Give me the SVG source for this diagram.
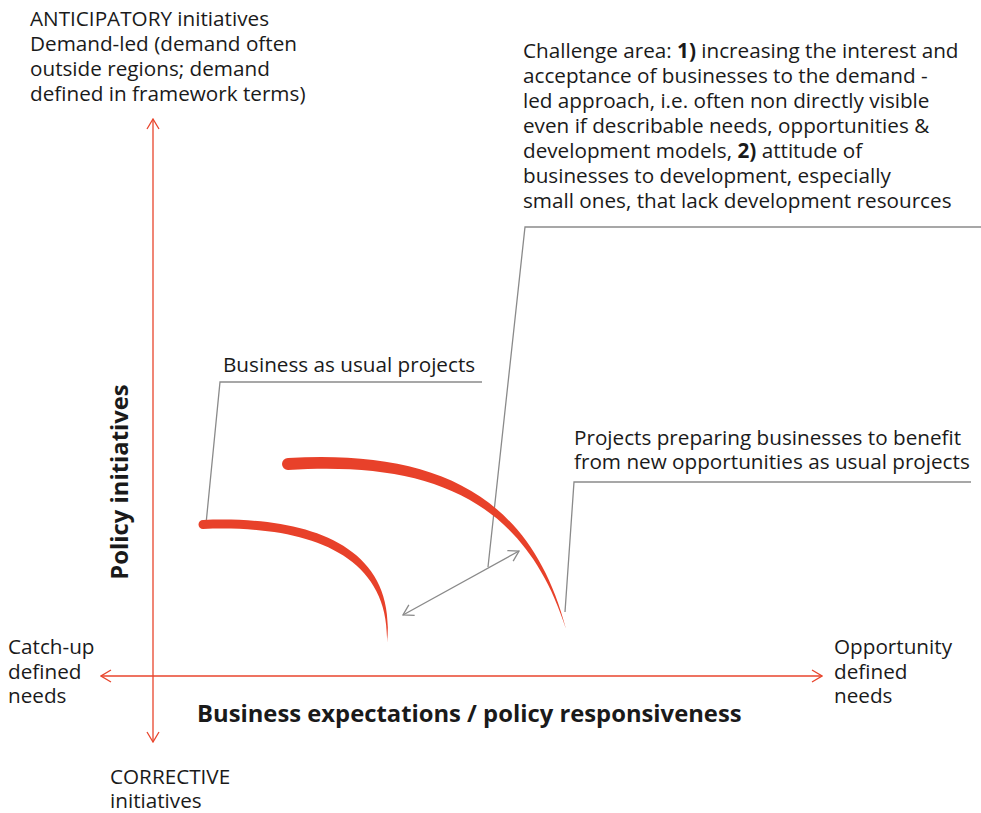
<svg xmlns="http://www.w3.org/2000/svg" width="981" height="813" viewBox="0 0 981 813">
<style>
text{font-family:"Open Sans","Noto Sans","Liberation Sans",sans-serif;font-size:20.7px;fill:#1a1a1a}
.b{font-weight:bold;font-size:23.8px}
.axis{stroke:#e8452c;stroke-width:1.3;fill:none}
.lead{stroke:#8a8a8a;stroke-width:1.3;fill:none}
.curve{fill:#e8412a;stroke:none}
</style>
<defs>
<marker id="ra" viewBox="0 0 12 14" refX="11" refY="7" markerWidth="12" markerHeight="14" markerUnits="userSpaceOnUse" orient="auto-start-reverse">
<path d="M1,1 L11,7 L1,13" fill="none" stroke="#e8452c" stroke-width="1.3"/>
</marker>
<marker id="ga" viewBox="0 0 12 14" refX="11" refY="7" markerWidth="12" markerHeight="14" markerUnits="userSpaceOnUse" orient="auto-start-reverse">
<path d="M1,1 L11,7 L1,13" fill="none" stroke="#8a8a8a" stroke-width="1.3"/>
</marker>
</defs>
<g id="connectors">
<line class="axis" x1="153" y1="742" x2="153" y2="119" marker-start="url(#ra)" marker-end="url(#ra)"/>
<line class="axis" x1="101" y1="676" x2="822" y2="676" marker-start="url(#ra)" marker-end="url(#ra)"/>
<line class="lead" x1="403" y1="615" x2="519" y2="551" marker-start="url(#ga)" marker-end="url(#ga)"/>
<polyline class="lead" points="206,524 220,382 482,382"/>
<polyline class="lead" points="488,567 525,227 981,227"/>
<polyline class="lead" points="565,612 574,482 971,482"/>
</g>
<g id="curve-business-as-usual">
<path class="curve" d="M203,520 C300,516 398,540 387,643 C390,549 299,525 203,529 A4.5,4.5 0 0 1 203,520 Z"/>
</g>
<g id="curve-preparing">
<path class="curve" d="M288,458 C430,450 530,490 566,629 C524,497 428,461 288,470 A6,6 0 0 1 288,458 Z"/>
</g>
<g id="label-anticipatory">
<text x="30" y="26">ANTICIPATORY initiatives</text>
<text x="30" y="51">Demand-led (demand often</text>
<text x="30" y="76">outside regions; demand</text>
<text x="30" y="101">defined in framework terms)</text>
</g>
<g id="label-challenge">
<text x="523" y="58">Challenge area: <tspan font-weight="bold">1)</tspan> increasing the interest and</text>
<text x="523" y="83">acceptance of businesses to the demand -</text>
<text x="523" y="108">led approach, i.e. often non directly visible</text>
<text x="523" y="133">even if describable needs, opportunities &amp;</text>
<text x="523" y="158">development models, <tspan font-weight="bold">2)</tspan> attitude of</text>
<text x="523" y="183">businesses to development, especially</text>
<text x="523" y="208">small ones, that lack development resources</text>
</g>
<g id="label-bau">
<text x="223" y="372">Business as usual projects</text>
</g>
<g id="label-preparing">
<text x="574" y="445">Projects preparing businesses to benefit</text>
<text x="574" y="469">from new opportunities as usual projects</text>
</g>
<g id="label-policy">
<text class="b" transform="translate(128,482) rotate(-90)" text-anchor="middle">Policy initiatives</text>
</g>
<g id="label-business-exp">
<text class="b" x="197" y="722">Business expectations / policy responsiveness</text>
</g>
<g id="label-catchup">
<text x="8" y="654">Catch-up</text>
<text x="8" y="679">defined</text>
<text x="8" y="703">needs</text>
</g>
<g id="label-opportunity">
<text x="834" y="654">Opportunity</text>
<text x="834" y="679">defined</text>
<text x="834" y="703">needs</text>
</g>
<g id="label-corrective">
<text x="110" y="784">CORRECTIVE</text>
<text x="110" y="808">initiatives</text>
</g>
</svg>
